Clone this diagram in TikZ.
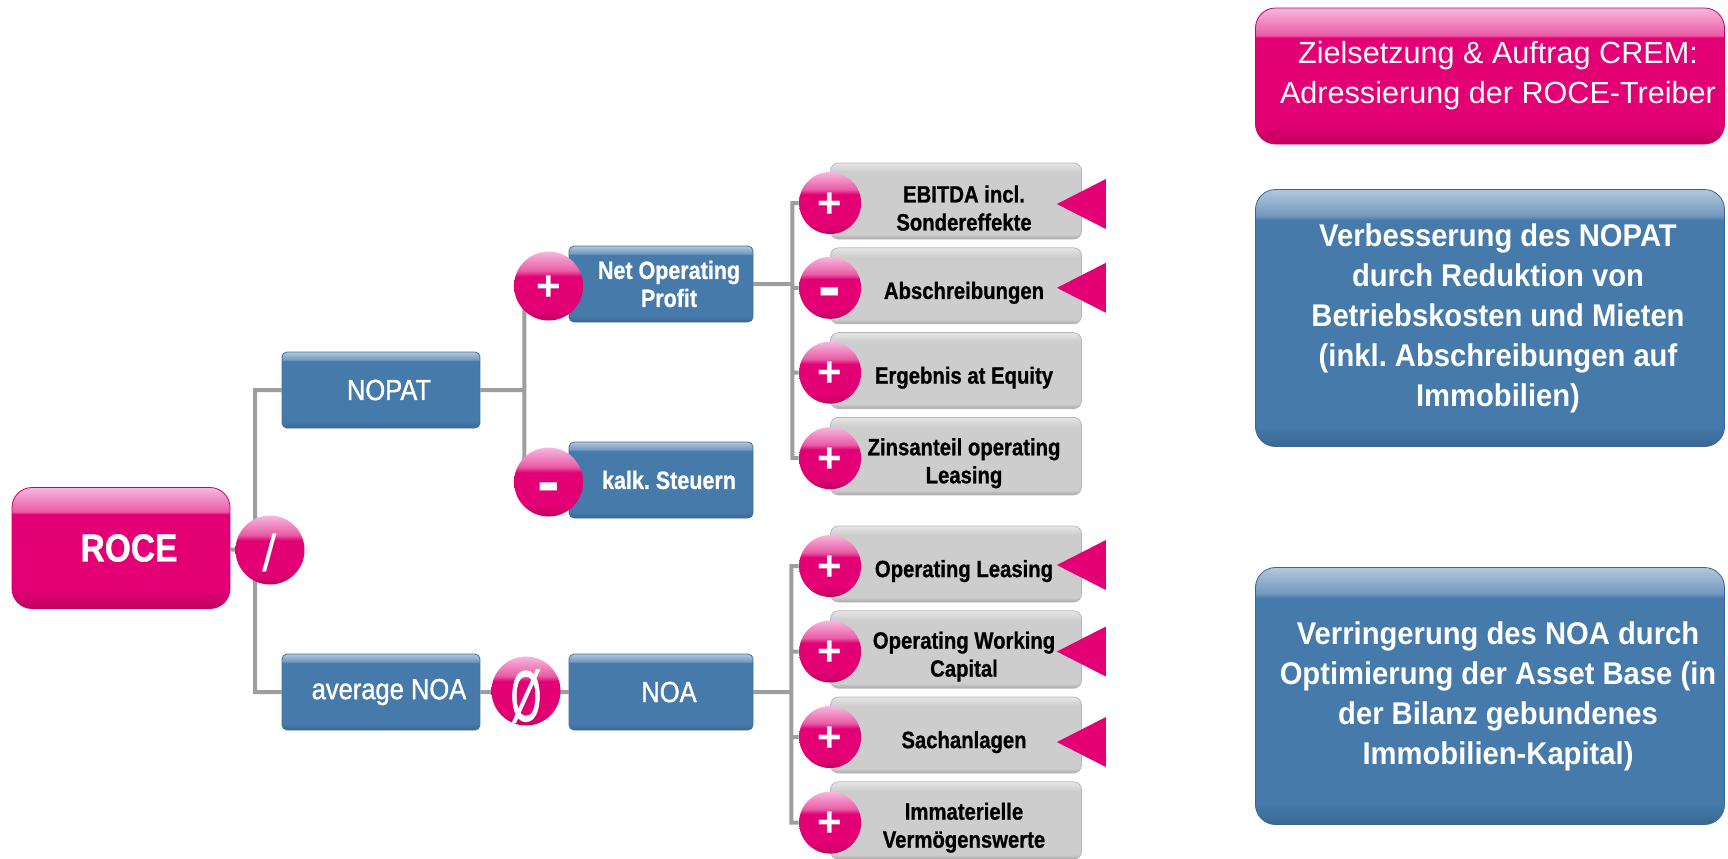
\documentclass[tikz,border=0pt]{standalone}
\usepackage{fontspec}
\setmainfont{Liberation Sans}
\newfontfamily\narrowfont[FakeStretch=0.86,BoldFeatures={FakeBold=0.8}]{Liberation Sans}
\newfontfamily\midfont[FakeStretch=0.88,FakeBold=1.2]{Liberation Sans}
\newfontfamily\medfont[FakeStretch=0.93]{Liberation Sans}
\usetikzlibrary{shapes,backgrounds,positioning}
\frenchspacing

\definecolor{tmagenta}{HTML}{E20074}
\definecolor{pinkdk}{HTML}{C2005F}
\definecolor{pinkmid}{HTML}{EA5CA6}
\definecolor{pinklt}{HTML}{F6B8DE}
\definecolor{boxblue}{HTML}{457AAA}
\definecolor{bluedk}{HTML}{3A6792}
\definecolor{bluemid}{HTML}{7399C0}
\definecolor{bluelt}{HTML}{B3C7DC}
\definecolor{boxgray}{HTML}{CDCDCD}
\definecolor{graydk}{HTML}{A8A8A8}
\definecolor{graylt}{HTML}{E6E6E6}
\definecolor{linegray}{HTML}{9E9E9E}

\pgfdeclareverticalshading{pinkgloss}{100bp}{color(0bp)=(pinkdk); color(25bp)=(pinkdk); color(33bp)=(tmagenta); color(64bp)=(tmagenta); color(65bp)=(pinkmid); color(75bp)=(pinklt); color(100bp)=(pinklt)}
\pgfdeclareverticalshading{bluegloss}{100bp}{color(0bp)=(bluedk); color(25bp)=(bluedk); color(29bp)=(boxblue); color(69bp)=(boxblue); color(70bp)=(bluemid); color(75bp)=(bluelt); color(100bp)=(bluelt)}
\pgfdeclareverticalshading{graygloss}{100bp}{color(0bp)=(graydk); color(25bp)=(graydk); color(28bp)=(boxgray); color(69bp)=(boxgray); color(75bp)=(graylt); color(100bp)=(graylt)}
\pgfdeclareverticalshading{ballgloss}{100bp}{color(0bp)=(pinkdk); color(25bp)=(pinkdk); color(33bp)=(tmagenta); color(57bp)=(tmagenta); color(61bp)=(pinkmid); color(75bp)=(pinklt); color(100bp)=(pinklt)}

\begin{document}
\begin{tikzpicture}[x=0.5pt,y=-0.5pt]
\tikzstyle{shifted}=[align=flush center,execute at begin node={\leftskip=8pt plus 1fil\relax}]
\tikzstyle{pinkbox}=[rectangle,rounded corners=10pt,shading=pinkgloss,draw=pinkdk!70!tmagenta,thin,text=white,shifted]
\tikzstyle{goalbox}=[rectangle,rounded corners=10pt,shading=bluegloss,draw=bluedk,thin,text=white,shifted,inner xsep=0pt,text width=234pt,minimum width=234.5pt,minimum height=128.5pt,font=\medfont\bfseries\fontsize{15.7}{20}\selectfont]
\tikzstyle{bluebox}=[rectangle,rounded corners=2.5pt,shading=bluegloss,draw=bluedk!60!boxblue,thin,text=white,shifted,text width=84pt,minimum width=92pt,minimum height=38pt,font=\narrowfont\bfseries\fontsize{12.5}{14}\selectfont]
\tikzstyle{plainbox}=[bluebox,text width=90pt,minimum width=99pt,font=\midfont\fontsize{14.5}{16}\selectfont]
\tikzstyle{graybox}=[rectangle,rounded corners=4pt,shading=graygloss,draw=graydk!60!boxgray,thin,text=black,align=flush center,text width=112pt,minimum width=125.5pt,minimum height=38pt,font=\narrowfont\bfseries\fontsize{11.8}{14}\selectfont,execute at begin node={\leftskip=8pt plus 1fil\relax\rule{0pt}{15.6pt}}]
\tikzstyle{bigop}=[circle,shading=ballgloss,minimum size=34.5pt,inner sep=0pt,text=white,text height=0pt,text depth=0pt]
\tikzstyle{op}=[bigop,minimum size=31pt]
\tikzstyle{link}=[draw=linegray,line width=2pt]
\useasboundingbox (0,0) rectangle (1728,858);

% Ziele rechts
\node[pinkbox,inner xsep=0pt,text width=234pt,minimum width=234.5pt,minimum height=68pt,font=\fontsize{15.3}{20}\selectfont] (goal) at (1490,76) {Zielsetzung \& Auftrag CREM:\\Adressierung der ROCE-Treiber};
\node[goalbox] (nopatgoal) at (1490,318) {Verbesserung des NOPAT\\durch Reduktion von\\Betriebskosten und Mieten\\(inkl. Abschreibungen auf\\Immobilien)};
\node[goalbox] (noagoal) at (1490,696) {Verringerung des NOA durch\\Optimierung der Asset Base (in\\der Bilanz gebundenes\\Immobilien-Kapital)};

% Baum
\node[pinkbox,text width=100pt,minimum width=109pt,minimum height=60.5pt,font=\narrowfont\bfseries\fontsize{19.5}{22}\selectfont] (roce) at (121,548) {ROCE};
\node[bigop] (div) at (270,550) {\fontsize{26}{26}\selectfont\raisebox{-10.5pt}{/}};
\node[plainbox] (nopat) at (381,390) {NOPAT};
\node[plainbox] (avgnoa) at (381,692) {average NOA};
\node[bigop] (avg) at (526,691) {\raisebox{-15pt}{\scalebox{0.62}[1]{\midfont\fontsize{36}{36}\selectfont Ø}}};
\node[bluebox] (nop) at (661,284) {Net Operating\\Profit};
\node[bluebox] (kalk) at (661,480) {kalk. Steuern};
\node[plainbox,text width=84pt,minimum width=92pt] (noa) at (661,692) {NOA};
\node[bigop] (pnop) at ([xshift=-10pt,yshift=-1pt]nop.west) {\bfseries\fontsize{21}{21}\selectfont\raisebox{-7pt}{+}};
\node[bigop] (mkalk) at ([xshift=-10pt,yshift=-1pt]kalk.west) {\bfseries\fontsize{34}{34}\selectfont\raisebox{-11pt}{-}};

% Werttreiber
\node[graybox] (ebitda) at (956,201) {EBITDA incl.\\Sondereffekte};
\node[graybox,below=4pt of ebitda] (abschr) {Abschreibungen};
\node[graybox,below=4pt of abschr] (equity) {Ergebnis at Equity};
\node[graybox,below=4pt of equity] (zins) {Zinsanteil operating\\Leasing};
\node[graybox] (leasing) at (956,564) {Operating Leasing};
\node[graybox,below=4pt of leasing] (owc) {Operating Working\\Capital};
\node[graybox,below=4pt of owc] (sach) {Sachanlagen};
\node[graybox,below=4pt of sach] (immat) {Immaterielle\\Vermögenswerte};

\node[op] (s1) at ([yshift=-1pt]ebitda.west) {\bfseries\fontsize{21}{21}\selectfont\raisebox{-7pt}{+}};
\node[op] (s2) at ([yshift=-1pt]abschr.west) {\bfseries\fontsize{34}{34}\selectfont\raisebox{-11pt}{-}};
\node[op] (s3) at ([yshift=-1pt]equity.west) {\bfseries\fontsize{21}{21}\selectfont\raisebox{-7pt}{+}};
\node[op] (s4) at ([yshift=-1pt]zins.west) {\bfseries\fontsize{21}{21}\selectfont\raisebox{-7pt}{+}};
\node[op] (s5) at ([yshift=-1pt]leasing.west) {\bfseries\fontsize{21}{21}\selectfont\raisebox{-7pt}{+}};
\node[op] (s6) at ([yshift=-1pt]owc.west) {\bfseries\fontsize{21}{21}\selectfont\raisebox{-7pt}{+}};
\node[op] (s7) at ([yshift=-1pt]sach.west) {\bfseries\fontsize{21}{21}\selectfont\raisebox{-7pt}{+}};
\node[op] (s8) at ([yshift=-1pt]immat.west) {\bfseries\fontsize{21}{21}\selectfont\raisebox{-7pt}{+}};

% Pfeile auf die Hebel
\fill[tmagenta] ([shift={(-25,3)}]ebitda.east) -- ++(49,-25) -- ++(0,50) -- cycle;
\fill[tmagenta] ([shift={(-25,2)}]abschr.east) -- ++(49,-25) -- ++(0,50) -- cycle;
\fill[tmagenta] ([shift={(-25,1)}]leasing.east) -- ++(49,-25) -- ++(0,50) -- cycle;
\fill[tmagenta] ([shift={(-25,2)}]owc.east) -- ++(49,-25) -- ++(0,50) -- cycle;
\fill[tmagenta] ([shift={(-25,7)}]sach.east) -- ++(49,-25) -- ++(0,50) -- cycle;

\begin{pgfonlayer}{background}
\coordinate (j0) at ([xshift=-7.5pt]div.center);
\coordinate (j1) at ([xshift=22pt]nopat.east);
\coordinate (j2) at ([xshift=19.5pt]nop.east);
\coordinate (j3) at ([xshift=19pt]noa.east);
\path[link] (roce) -- (div)
  (j0) |- (nopat.west)
  (j0) |- (avgnoa.west)
  (nopat.east) -- (j1) |- (pnop)
  (j1) |- (mkalk)
  (avgnoa) -- (noa)
  (nop.east) -- (j2) |- (s1)
  (j2) |- (s2) (j2) |- (s3) (j2) |- (s4)
  (noa.east) -- (j3) |- (s5)
  (j3) |- (s6) (j3) |- (s7) (j3) |- (s8);
\end{pgfonlayer}
\end{tikzpicture}
\end{document}
